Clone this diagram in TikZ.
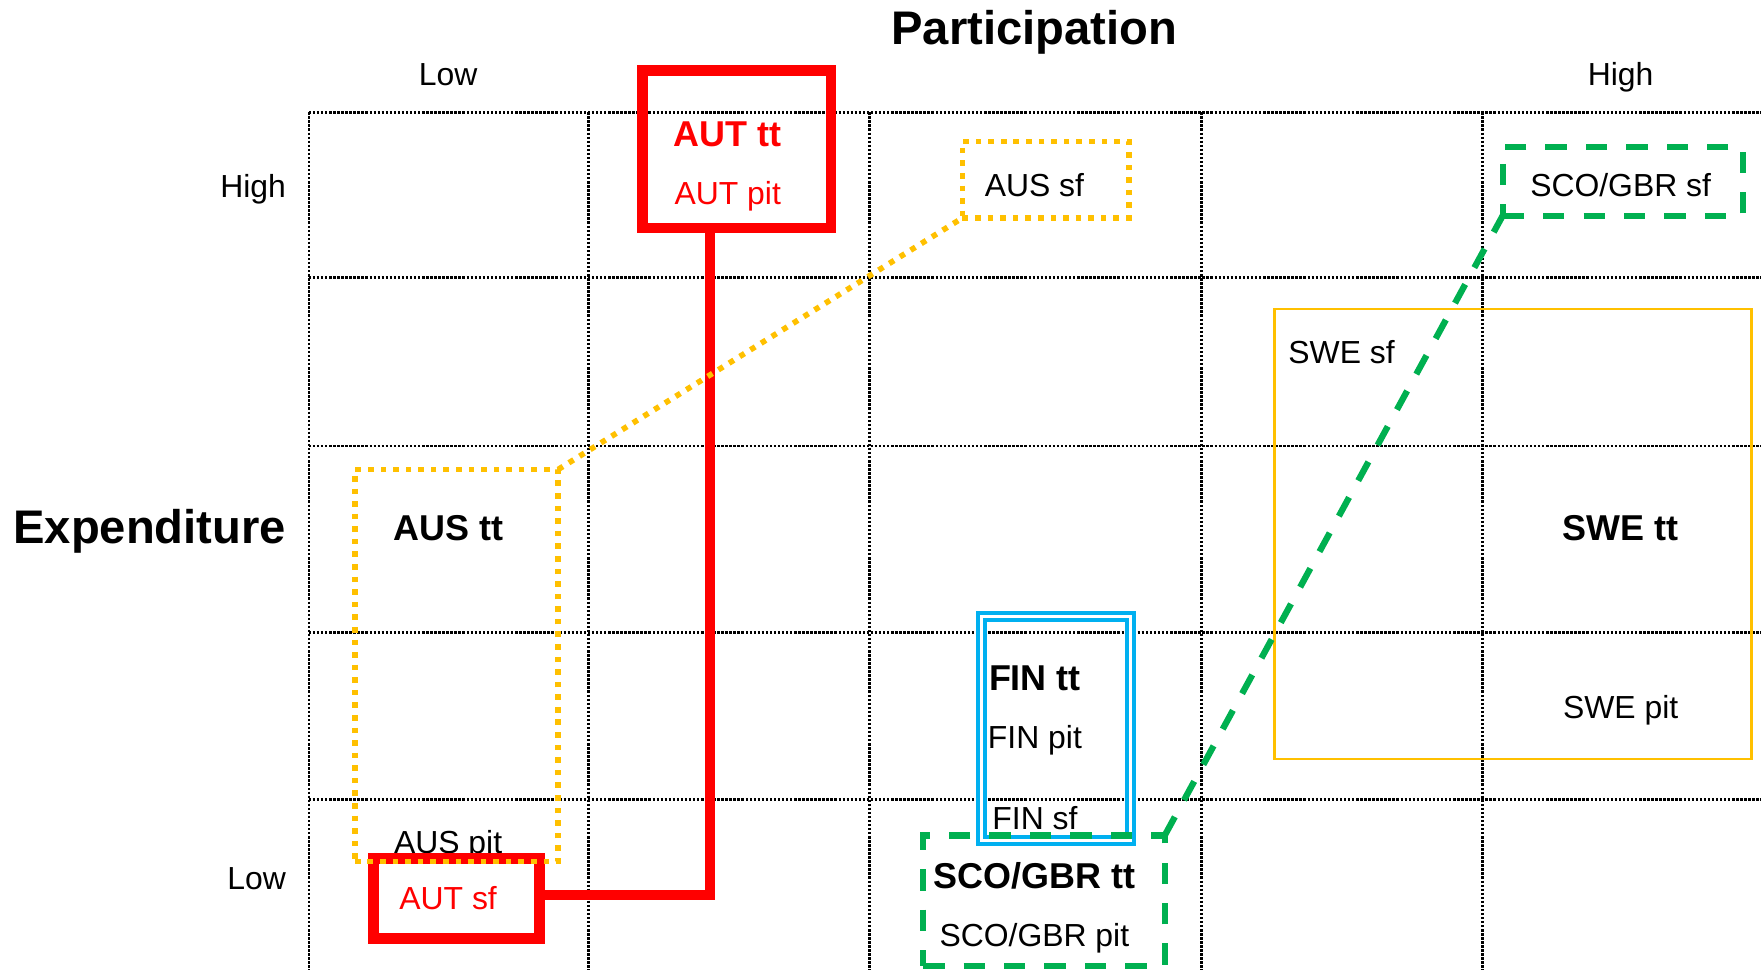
\documentclass[tikz,border=0pt]{standalone}
\usepackage{fontspec}
\setmainfont{Liberation Sans}
\definecolor{myred}{HTML}{FF0000}
\definecolor{myyellow}{HTML}{FFC000}
\definecolor{mygreen}{HTML}{00B050}
\definecolor{myblue}{HTML}{00B0F0}
\tikzset{
  gridline/.style={draw=black, line width=1.2pt, dash pattern=on 1.1pt off 0.7pt},
  box/.style={rectangle, inner sep=0pt, outer sep=0pt},
  redbox/.style={box, draw=myred, line width=4.8pt},
  redlink/.style={draw=myred, line width=4.5pt},
  dotbox/.style={box, draw=myyellow, line width=2.5pt, dash pattern=on 2.5pt off 3.1pt},
  dotlink/.style={draw=myyellow, line width=2.5pt, dash pattern=on 2.5pt off 3.1pt},
  dashbox/.style={box, draw=mygreen, line width=2.8pt, dash pattern=on 9.5pt off 8.5pt},
  dashlink/.style={draw=mygreen, line width=2.8pt, dash pattern=on 9.5pt off 8.5pt},
  solidbox/.style={box, draw=myyellow, line width=1.2pt},
  doublebox/.style={box, draw=myblue, line width=1.8pt, double=white, double distance=1.2pt},
  txt/.style={inner sep=0pt, anchor=base, font=\fontsize{14.2}{17}\selectfont},
  btxt/.style={inner sep=0pt, anchor=base, font=\fontsize{16}{19}\selectfont\bfseries},
  title/.style={inner sep=0pt, anchor=base, font=\fontsize{21}{25}\selectfont\bfseries},
}
\begin{document}
\begin{tikzpicture}[x=0.5pt, y=-0.5pt]
\useasboundingbox (0,0) rectangle (1568,864);
% grid
\foreach \xx in {275,524,774,1070,1320} \draw[gridline] (\xx,100) -- (\xx,864);
\foreach \yy in {100,247,397,563,712} \draw[gridline] (275,\yy) -- (1568,\yy);
% axis titles and labels
\node[title] (part) at (921,40) {Participation};
\node[txt] (plow) at (399,76) {Low};
\node[txt] (phigh) at (1443,76) {High};
\node[txt, anchor=base east] (ehigh) at (255,176) {High};
\node[title, anchor=base east] (expend) at (255,484) {Expenditure};
\node[txt, anchor=base east] (elow) at (255,792) {Low};
% SWE
\node[solidbox, minimum width=212.35pt, minimum height=200.35pt] (SWE) at (1347.4,475.5) {};
\node[txt] (swesf) at (1194.5,324) {SWE sf};
\node[btxt] (swett) at (1443,481.5) {SWE tt};
\node[txt] (swepit) at (1443,639.5) {SWE pit};
% FIN
\node[doublebox, minimum width=66.25pt, minimum height=99.75pt] (FIN) at (940.25,648.75) {};
\node[btxt] (fintt) at (921.5,615) {FIN tt};
\node[txt] (finpit) at (921.5,666.5) {FIN pit};
\node[txt] (finsf) at (921.5,739) {FIN sf};
% AUS texts
\node[txt] (aussf) at (921,175) {AUS sf};
\node[btxt] (austt) at (399,481.5) {AUS tt};
\node[txt] (auspit) at (399,760) {AUS pit};
% AUT
\node[redbox, minimum width=84pt, minimum height=70pt] (AUTtt) at (656,133) {};
\node[txt, text=myred, font=\fontsize{16}{19}\selectfont\bfseries] (auttt) at (648,130.5) {AUT tt};
\node[txt, text=myred] (autpit) at (648,182) {AUT pit};
\node[redbox, minimum width=74pt, minimum height=35.5pt] (AUTsf) at (406.5,800) {};
\node[txt, text=myred] (autsf) at (399,810) {AUT sf};
\coordinate (bend) at (632,797);
\draw[redlink] ([xshift=1pt]AUTsf.east |- bend) -- (bend) -- (bend |- AUTtt.south);
% AUS boxes
\node[dotbox, minimum width=74pt, minimum height=34pt] (AUSsf) at (931,160) {};
\node[dotbox, minimum width=90.5pt, minimum height=174.5pt] (AUStt) at (406.5,592.5) {};
\draw[dotlink] (AUStt.north east) -- (AUSsf.south west);
% SCO/GBR
\node[dashbox, minimum width=107pt, minimum height=30.5pt] (SCOsf) at (1445,161.5) {};
\node[txt] (scosf) at (1443,175) {SCO/GBR sf};
\node[dashbox, minimum width=107.5pt, minimum height=58pt] (SCOtt) at (929.5,802) {};
\node[btxt] (scott) at (921,791) {SCO/GBR tt};
\node[txt] (scopit) at (921,843) {SCO/GBR pit};
\draw[dashlink] (SCOtt.north east) -- (SCOsf.south west);
\end{tikzpicture}
\end{document}
